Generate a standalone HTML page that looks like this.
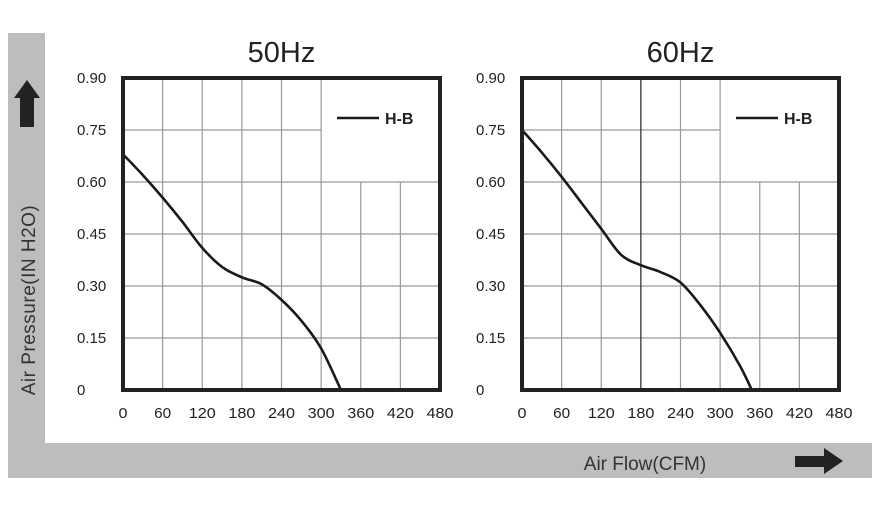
<!DOCTYPE html>
<html><head><meta charset="utf-8"><style>
body{margin:0;background:#fff;}
svg{display:block;font-family:"Liberation Sans",sans-serif;}
</style></head><body>
<svg id="chart" width="880" height="520" viewBox="0 0 880 520">
  <rect x="8" y="33" width="37" height="445" fill="#bcbdbf"/>
  <rect x="8" y="443" width="864" height="35" fill="#bcbdbf"/>
  <polygon points="34,127 20,127 20,98 14,98 27,80 40,98 34,98" fill="#222"/>
  <polygon points="795,456 824,456 824,448 843,461 824,474 824,467 795,467" fill="#222"/>
  <text transform="translate(35,300) rotate(-90)" text-anchor="middle" font-size="19" fill="#333" letter-spacing="0.5">Air Pressure(IN H2O)</text>
  <text x="645" y="470" text-anchor="middle" font-size="19" fill="#333">Air Flow(CFM)</text>
  <g id="panels"></g>
</svg>
<script>
const xTicks=[0,60,120,180,240,300,360,420,480];
const yTicks=[0,0.15,0.30,0.45,0.60,0.75,0.90];
const yTickLabels=["0","0.15","0.30","0.45","0.60","0.75","0.90"];
const titles=["50Hz","60Hz"];
const seriesName="H-B";
const flow50=[0,30,60,90,120,150,180,210,240,270,300,330];
const pres50=[0.68,0.62,0.555,0.485,0.41,0.355,0.325,0.305,0.26,0.20,0.12,0];
const flow60=[0,30,60,90,120,150,180,210,240,270,300,330,348];
const pres60=[0.75,0.685,0.615,0.54,0.465,0.39,0.36,0.34,0.31,0.245,0.165,0.07,0];

const NS="http://www.w3.org/2000/svg";
const panelsG=document.getElementById('panels');
function mk(tag,attrs,parent){const e=document.createElementNS(NS,tag);for(const k in attrs)e.setAttribute(k,attrs[k]);parent.appendChild(e);return e;}
const plotTop=78,plotBot=390,plotW=317;
function drawPanel(left,title,fx,py,idx){
  const xs=v=>left+v/480*plotW;
  const ys=v=>plotBot-v/0.9*(plotBot-plotTop);
  const g=mk('g',{},panelsG);
  
  
  const t=mk('text',{x:left+plotW/2,y:62,'text-anchor':'middle','font-size':29,fill:'#222'},g);
  t.textContent=title;
  
  
  yTicks.forEach((v,i)=>{
    if(i===0||i===yTicks.length-1)return;
    const x2= v>0.7 ? xs(300) : xs(480);
    const l=mk('line',{x1:xs(0),x2:x2,y1:ys(v),y2:ys(v),stroke:'#999','stroke-width':1.2},g);
    
    
  });
  xTicks.forEach((v,i)=>{
    if(i===0||i===xTicks.length-1)return;
    const y1= v>300 ? ys(0.6) : ys(0.9);
    const l=mk('line',{x1:xs(v),x2:xs(v),y1:y1,y2:ys(0),stroke:(idx===1&&v===180)?'#222':'#999','stroke-width':1.2},g);
    
    
  });
  xTicks.forEach(v=>{
    const tt=mk('text',{x:xs(v),y:418,'text-anchor':'middle','font-size':15,fill:'#222',textLength:v===0?9:(v<100?17:27),lengthAdjust:'spacingAndGlyphs'},g);
    tt.textContent=v;
    
    
  });
  yTicks.forEach((v,i)=>{
    const tt=mk('text',{x:left-46,y:ys(v)+5,'font-size':15,fill:'#222'},g);
    tt.textContent=yTickLabels[i];
    
    
  });
  const P=fx.map((f,i)=>[xs(f),ys(py[i])]);
  let d='M'+P[0][0]+','+P[0][1];
  for(let i=0;i<P.length-1;i++){
    const p0=P[Math.max(0,i-1)],p1=P[i],p2=P[i+1],p3=P[Math.min(P.length-1,i+2)];
    const c1=[p1[0]+(p2[0]-p0[0])/6,p1[1]+(p2[1]-p0[1])/6];
    const c2=[p2[0]-(p3[0]-p1[0])/6,p2[1]-(p3[1]-p1[1])/6];
    d+=' C'+c1+' '+c2+' '+p2;
  }
  const c=mk('path',{d:d,fill:'none',stroke:'#1a1a1a','stroke-width':2.6},g);
  
  
  const f=mk('rect',{x:left,y:plotTop,width:plotW,height:plotBot-plotTop,fill:'none',stroke:'#222','stroke-width':4},g);
  
  
  const lg=mk('g',{},g);
  
  
  mk('line',{x1:left+214,x2:left+256,y1:118,y2:118,stroke:'#1a1a1a','stroke-width':2.6},lg);
  const lt=mk('text',{x:left+262,y:124,'font-size':16,'font-weight':'bold',fill:'#222'},lg);
  lt.textContent=seriesName;
}
drawPanel(123,titles[0],flow50,pres50,0);
drawPanel(522,titles[1],flow60,pres60,1);
</script>
</body></html>
